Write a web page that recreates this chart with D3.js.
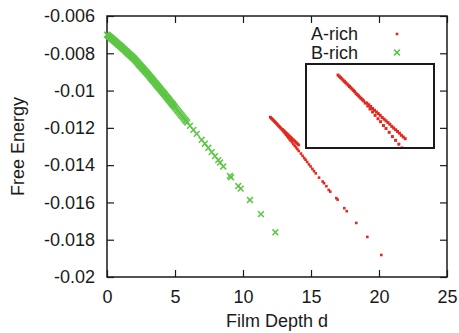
<!DOCTYPE html>
<html>
<head>
<meta charset="utf-8">
<script src="https://cdn.jsdelivr.net/npm/d3@7"></script>
<style>
  body { margin: 0; background: #fff; }
  text { font-family: "Liberation Sans", Arial, sans-serif; fill: #1a1a1a; }
</style>
</head>
<body>
<div id="chart"></div>
<script>
// tick values and labels
var xTicks = [0, 5, 10, 15, 20, 25];
var xTickLabels = ["0", "5", "10", "15", "20", "25"];
var yTicks = [-0.02, -0.018, -0.016, -0.014, -0.012, -0.01, -0.008, -0.006];
var yTickLabels = ["-0.02", "-0.018", "-0.016", "-0.014", "-0.012", "-0.01", "-0.008", "-0.006"];
var seriesNames = ["A-rich", "B-rich"];

// B-rich points [film depth, free energy]
var bRich = [
  [0.0, -0.00700], [0.05, -0.00703], [0.1, -0.00706], [0.15, -0.00709], [0.2, -0.00712],
  [0.25, -0.00715], [0.3, -0.00719], [0.35, -0.00722], [0.4, -0.00725], [0.45, -0.00728],
  [0.5, -0.00731], [0.55, -0.00734], [0.6, -0.00737], [0.65, -0.00740], [0.7, -0.00743],
  [0.75, -0.00747], [0.8, -0.00750], [0.85, -0.00753], [0.9, -0.00756], [0.95, -0.00759],
  [1.0, -0.00762], [1.05, -0.00765], [1.1, -0.00769], [1.15, -0.00772], [1.2, -0.00776],
  [1.25, -0.00779], [1.3, -0.00782], [1.35, -0.00786], [1.4, -0.00789], [1.45, -0.00793],
  [1.5, -0.00796], [1.55, -0.00800], [1.6, -0.00803], [1.65, -0.00806], [1.7, -0.00810],
  [1.75, -0.00813], [1.8, -0.00816], [1.85, -0.00820], [1.9, -0.00823], [1.95, -0.00826],
  [2.0, -0.00830], [2.05, -0.00834], [2.1, -0.00838], [2.15, -0.00842], [2.2, -0.00846],
  [2.25, -0.00850], [2.3, -0.00855], [2.35, -0.00859], [2.4, -0.00863], [2.45, -0.00867],
  [2.5, -0.00871], [2.55, -0.00875], [2.6, -0.00879], [2.65, -0.00883], [2.7, -0.00887],
  [2.75, -0.00892], [2.8, -0.00896], [2.85, -0.00900], [2.9, -0.00904], [2.95, -0.00908],
  [3.0, -0.00912], [3.05, -0.00916], [3.1, -0.00921], [3.15, -0.00925], [3.2, -0.00930],
  [3.25, -0.00934], [3.3, -0.00938], [3.35, -0.00943], [3.4, -0.00947], [3.45, -0.00951],
  [3.5, -0.00956], [3.55, -0.00960], [3.6, -0.00965], [3.65, -0.00969], [3.7, -0.00974],
  [3.75, -0.00978], [3.8, -0.00982], [3.85, -0.00987], [3.9, -0.00991], [3.95, -0.00995],
  [4.0, -0.01000], [4.05, -0.01004], [4.1, -0.01009], [4.15, -0.01013], [4.2, -0.01018],
  [4.25, -0.01022], [4.3, -0.01027], [4.35, -0.01031], [4.4, -0.01036], [4.45, -0.01040],
  [4.5, -0.01045], [4.55, -0.01049], [4.6, -0.01054], [4.65, -0.01058], [4.7, -0.01063],
  [4.75, -0.01067], [4.8, -0.01072], [4.85, -0.01076], [4.9, -0.01081], [4.95, -0.01085],
  [5.0, -0.01090], [5.07, -0.01097], [5.15, -0.01104], [5.22, -0.01110], [5.3, -0.01117],
  [5.37, -0.01124], [5.45, -0.01131], [5.52, -0.01137], [5.6, -0.01144], [5.67, -0.01151],
  [5.75, -0.01158], [5.82, -0.01164], [5.9, -0.01171], [6.1, -0.01189], [6.35, -0.01211],
  [6.6, -0.01232], [6.96, -0.01264], [7.2, -0.01285], [7.45, -0.01307], [7.7, -0.01330],
  [7.94, -0.01352], [8.18, -0.01373], [8.31, -0.01386], [8.55, -0.01407], [9.04, -0.01458],
  [9.12, -0.01465], [9.65, -0.01512], [9.83, -0.01526], [10.51, -0.01587], [11.32, -0.01663],
  [12.38, -0.01760]
];

// A-rich points: shared start, upper short branch, lower long branch
var aRich = [
  [12.00, -0.01142], [12.04, -0.01145], [12.08, -0.01148], [12.12, -0.01151], [12.16, -0.01154],
  [12.20, -0.01157], [12.24, -0.01160], [12.28, -0.01163], [12.32, -0.01166], [12.36, -0.01169],
  [12.40, -0.01172], [12.44, -0.01175], [12.48, -0.01178], [12.52, -0.01181], [12.56, -0.01185],
  [12.60, -0.01188], [12.64, -0.01191], [12.68, -0.01194], [12.72, -0.01197], [12.76, -0.01200],
  [12.80, -0.01203],
  [12.90, -0.01208], [12.96, -0.01212], [13.02, -0.01216], [13.08, -0.01221], [13.14, -0.01225],
  [13.20, -0.01229], [13.26, -0.01233], [13.32, -0.01237], [13.38, -0.01242], [13.44, -0.01246],
  [13.50, -0.01250], [13.56, -0.01254], [13.62, -0.01258], [13.68, -0.01263], [13.74, -0.01267],
  [13.80, -0.01271], [13.86, -0.01275], [13.92, -0.01279], [13.98, -0.01284], [14.04, -0.01288],
  [14.10, -0.01292],
  [12.85, -0.01208], [12.93, -0.01215], [13.00, -0.01222], [13.08, -0.01229], [13.16, -0.01237],
  [13.25, -0.01245], [13.33, -0.01252], [13.42, -0.01261], [13.50, -0.01268], [13.60, -0.01277],
  [13.70, -0.01287], [13.80, -0.01296], [13.90, -0.01305], [14.00, -0.01314], [14.10, -0.01324],
  [14.26, -0.01338], [14.38, -0.01350], [14.50, -0.01362], [14.60, -0.01371], [14.72, -0.01383],
  [14.85, -0.01396], [14.97, -0.01407], [15.10, -0.01420], [15.22, -0.01432], [15.35, -0.01444],
  [15.59, -0.01467], [15.86, -0.01488], [15.96, -0.01497], [16.13, -0.01513], [16.30, -0.01533],
  [16.42, -0.01542], [16.86, -0.01577], [16.96, -0.01585], [17.45, -0.01631], [17.63, -0.01647],
  [18.33, -0.01710], [19.14, -0.01785], [20.17, -0.01882]
];

var red = "#e0291f", green = "#5cc644", ink = "#1a1a1a";

var W = 459, H = 333;
var margin = { top: 16, right: 12, bottom: 56, left: 107 };
var width = W - margin.left - margin.right,
    height = H - margin.top - margin.bottom;

var svg = d3.select("#chart").append("svg")
  .attr("width", W).attr("height", H);

var g = svg.append("g")
  .attr("transform", "translate(" + margin.left + "," + margin.top + ")");

var x = d3.scaleLinear().domain([0, 25]).range([0, width]);
var y = d3.scaleLinear().domain([-0.02, -0.006]).range([height, 0]);

// axes with inward ticks on all four sides
function styleAxis(sel) {
  sel.select(".domain").remove();
  sel.selectAll(".tick line").attr("stroke", ink).attr("stroke-width", 1.2);
  sel.selectAll(".tick text").style("font-size", "18px").attr("fill", ink);
}

g.append("g")
  .attr("transform", "translate(0," + height + ")")
  .call(d3.axisBottom(x).tickValues(xTicks).tickSizeInner(-7).tickSizeOuter(0).tickPadding(13)
    .tickFormat(function (d, i) { return xTickLabels[i]; }))
  .call(styleAxis);

g.append("g")
  .call(d3.axisLeft(y).tickValues(yTicks).tickSizeInner(-7).tickSizeOuter(0).tickPadding(12)
    .tickFormat(function (d, i) { return yTickLabels[i]; }))
  .call(styleAxis);

g.append("g")
  .call(d3.axisTop(x).tickValues(xTicks).tickSizeInner(-7).tickSizeOuter(0).tickFormat(""))
  .call(styleAxis);

g.append("g")
  .attr("transform", "translate(" + width + ",0)")
  .call(d3.axisRight(y).tickValues(yTicks).tickSizeInner(-7).tickSizeOuter(0).tickFormat(""))
  .call(styleAxis);

g.append("rect")
  .attr("width", width).attr("height", height)
  .attr("fill", "none").attr("stroke", ink).attr("stroke-width", 1.5);

// axis titles
svg.append("text")
  .attr("x", margin.left + width / 2).attr("y", 327)
  .attr("text-anchor", "middle").style("font-size", "18px")
  .text("Film Depth d");

svg.append("text")
  .attr("transform", "translate(24," + (margin.top + height / 2) + ") rotate(-90)")
  .attr("text-anchor", "middle").style("font-size", "18px")
  .text("Free Energy");

// markers
function crosses(parent, data, sx, sy) {
  var s = 2.9;
  parent.selectAll(null).data(data).enter().append("path")
    .attr("d", function (d) {
      var px = sx(d[0]), py = sy(d[1]);
      return "M" + (px - s) + "," + (py - s) + "L" + (px + s) + "," + (py + s) +
             "M" + (px - s) + "," + (py + s) + "L" + (px + s) + "," + (py - s);
    })
    .attr("stroke", green).attr("stroke-width", 1.5).attr("fill", "none");
}

function dots(parent, data, sx, sy, s) {
  s = s || 2.6;
  parent.selectAll(null).data(data).enter().append("rect")
    .attr("x", function (d) { return sx(d[0]) - s / 2; })
    .attr("y", function (d) { return sy(d[1]) - s / 2; })
    .attr("width", s).attr("height", s)
    .attr("fill", red);
}

crosses(g.append("g"), bRich, x, y);
dots(g.append("g"), aRich, x, y);

// legend
var legend = svg.append("g");
seriesNames.forEach(function (name, i) {
  var ly = 34 + i * 18.5;
  legend.append("text")
    .attr("x", 358).attr("y", ly).attr("dy", "0.36em")
    .attr("text-anchor", "end").style("font-size", "18px")
    .text(name);
});
dots(legend, [[0, 0]], function () { return 397; }, function () { return 34; });
crosses(legend, [[0, 0]], function () { return 397; }, function () { return 52.5; });

// inset: magnified view of the A-rich branches
var inset = { x0: 306, y0: 64, x1: 434, y1: 148 };
var ix = d3.scaleLinear().domain([11, 15]).range([inset.x0, inset.x1]);
var iy = d3.scaleLinear().domain([-0.01116, -0.01314]).range([inset.y0, inset.y1]);

svg.append("defs").append("clipPath").attr("id", "insetClip")
  .append("rect")
  .attr("x", inset.x0).attr("y", inset.y0)
  .attr("width", inset.x1 - inset.x0).attr("height", inset.y1 - inset.y0);

svg.append("rect")
  .attr("x", inset.x0).attr("y", inset.y0)
  .attr("width", inset.x1 - inset.x0).attr("height", inset.y1 - inset.y0)
  .attr("fill", "#fff");

dots(svg.append("g").attr("clip-path", "url(#insetClip)"), aRich, ix, iy, 3);

svg.append("rect")
  .attr("x", inset.x0).attr("y", inset.y0)
  .attr("width", inset.x1 - inset.x0).attr("height", inset.y1 - inset.y0)
  .attr("fill", "none").attr("stroke", ink).attr("stroke-width", 2);
</script>
</body>
</html>
